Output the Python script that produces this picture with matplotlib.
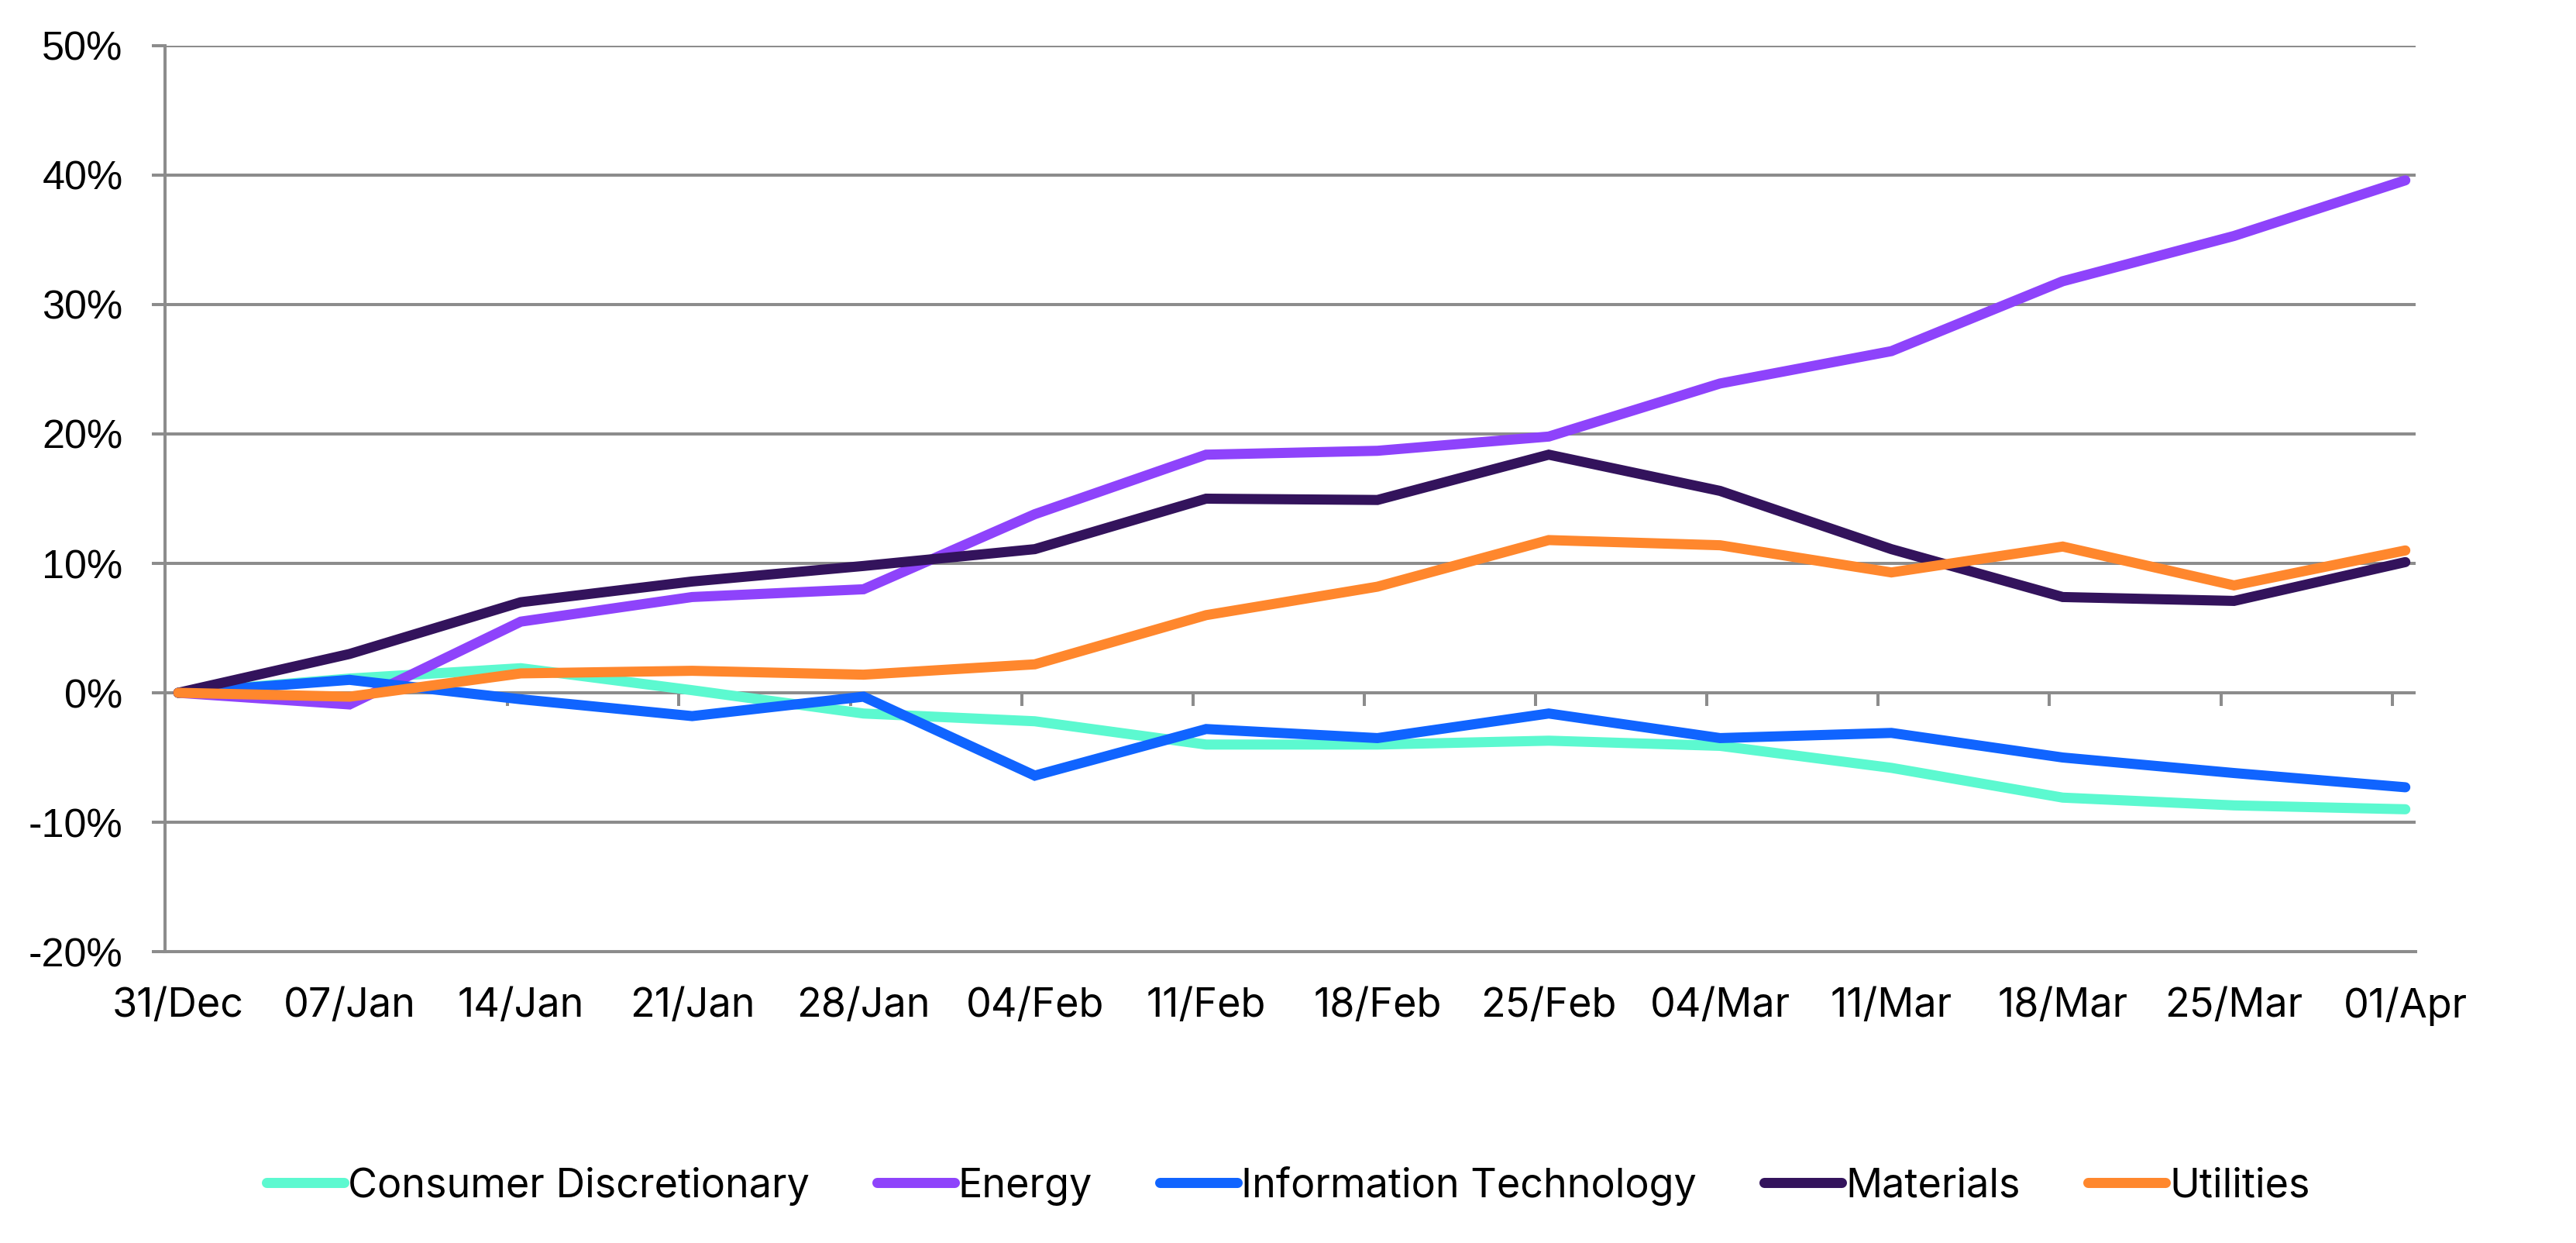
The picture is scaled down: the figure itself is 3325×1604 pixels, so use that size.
import matplotlib
matplotlib.use('Agg')
import matplotlib.pyplot as plt
from matplotlib.ticker import FuncFormatter

# data (weekly cumulative performance, %)
dates = ['31/Dec', '07/Jan', '14/Jan', '21/Jan', '28/Jan', '04/Feb', '11/Feb',
         '18/Feb', '25/Feb', '04/Mar', '11/Mar', '18/Mar', '25/Mar', '01/Apr']

consumer_disc = [0, 1.1, 1.9, 0.2, -1.6, -2.2, -4.0, -4.0, -3.7, -4.1, -5.8, -8.1, -8.7, -9.0]
energy = [0, -0.9, 5.5, 7.4, 8.0, 13.8, 18.4, 18.7, 19.8, 23.9, 26.4, 31.8, 35.3, 39.6]
info_tech = [0, 1.0, -0.5, -1.8, -0.3, -6.4, -2.8, -3.5, -1.6, -3.5, -3.1, -5.0, -6.2, -7.3]
materials = [0, 3.0, 7.0, 8.6, 9.8, 11.1, 15.0, 14.9, 18.4, 15.6, 11.1, 7.4, 7.1, 10.1]
utilities = [0, -0.3, 1.5, 1.7, 1.4, 2.2, 6.0, 8.2, 11.8, 11.4, 9.3, 11.3, 8.3, 11.0]

series_names = ['Consumer Discretionary', 'Energy', 'Information Technology', 'Materials', 'Utilities']
series_colors = ['#5CF9D0', '#8E43FB', '#1064FF', '#33135C', '#FF872D']
series_values = [consumer_disc, energy, info_tech, materials, utilities]

GRID = '#8C8C8C'
FS = 37.5

fig = plt.figure(figsize=(33.25, 16.04), dpi=100)
ax = fig.add_axes([0.06406, 0.23441, 0.93774 - 0.06406, 0.96322 - 0.23441])

x = list(range(len(dates)))
for vals, name, col in zip(series_values, series_names, series_colors):
    ax.plot(x, vals, color=col, lw=9.4, solid_capstyle='round',
            solid_joinstyle='miter', label=name, zorder=3)

ax.set_ylim(-20, 50)
ax.set_yticks(range(-20, 51, 10))
ax.yaxis.set_major_formatter(FuncFormatter(lambda v, p: f'{int(v)}%'))
ax.grid(axis='y', color=GRID, lw=2.9, zorder=1)
ax.set_axisbelow(True)

ax.set_xlim(-0.077, 13.06)
ax.set_xticks(x)
ax.set_xticklabels(dates, family=['Inter', 'DejaVu Sans'], fontsize=FS)
ax.tick_params(axis='x', length=0, pad=33)
ax.tick_params(axis='y', length=12.2, width=2.9, color=GRID, pad=27,
               labelsize=FS)
for lab in ax.get_yticklabels():
    lab.set_family(['Liberation Sans', 'DejaVu Sans'])

for s in ['top', 'right']:
    ax.spines[s].set_visible(False)
for s in ['left', 'bottom']:
    ax.spines[s].set_color(GRID)
    ax.spines[s].set_linewidth(2.9)

# tick marks hanging from the zero line
sec = ax.secondary_xaxis(2 / 7)
sec.set_xticks([i - 0.077 for i in x])
sec.tick_params(axis='x', direction='out', length=12.2, width=2.9, color=GRID,
                labelbottom=False, labeltop=False)
for s in sec.spines.values():
    s.set_visible(False)

fig.legend(loc='center', bbox_to_anchor=(0.5, 0.046), ncol=5, frameon=False,
           prop={'family': ['Inter', 'DejaVu Sans'], 'size': FS},
           handlelength=1.92, handletextpad=0.1, columnspacing=1.67)

fig.savefig('out.png', dpi=100, facecolor='white')
